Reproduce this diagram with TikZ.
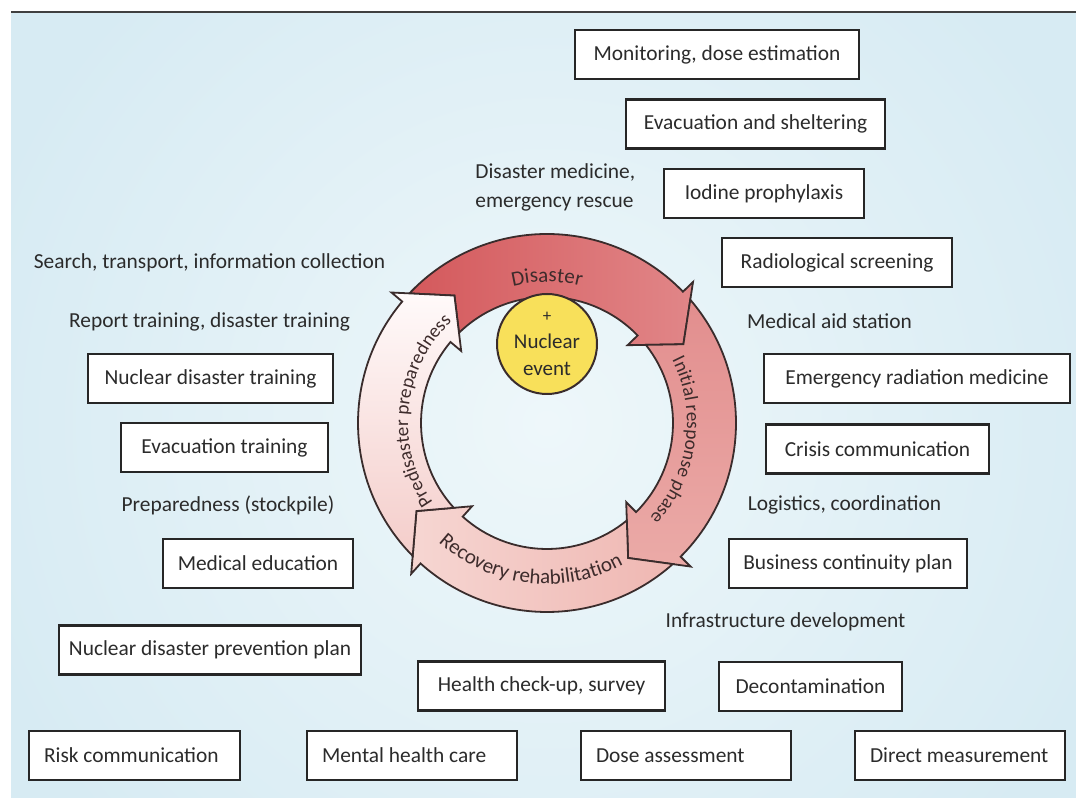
\documentclass[tikz,border=0pt]{standalone}
\usepackage{fontspec}
\setmainfont{Carlito}
\usetikzlibrary{decorations.text}

\definecolor{bgblue}{HTML}{D7EBF3}
\definecolor{bglight}{HTML}{EEF7FA}
\definecolor{ringline}{HTML}{3A2C2C}
\definecolor{disA}{HTML}{D4595C}
\definecolor{disB}{HTML}{E18688}
\definecolor{iniA}{HTML}{E28E8E}
\definecolor{iniB}{HTML}{EBAAA7}
\definecolor{recA}{HTML}{EFB7B2}
\definecolor{recB}{HTML}{F6D6D2}
\definecolor{preA}{HTML}{F4CDCA}
\definecolor{preB}{HTML}{FFFAFA}
\definecolor{nucyellow}{HTML}{F8E05A}
\definecolor{txtgrey}{HTML}{2B2B2B}
\definecolor{ringtxt}{HTML}{3D2B2B}

\newcommand\boxfont{\fontsize{10.7}{14.5}\selectfont}
\newcommand\ringfont{\fontsize{10.5}{12}\selectfont}
\newcommand\ringfontsm{\fontsize{9.6}{12}\selectfont}
\def\rOut{189}
\def\rIn{126}
\def\rMid{157.5}

% ring arrow: #1 = base angle of the previous head, #2 = own head base, #3 = looks
\newcommand\ringarrow[3]{%
  \draw[#3] ({#1-3.29}:\rOut) arc[start angle={#1-3.29}, end angle={#2}, radius=\rOut]
    -- ({#2}:{\rOut+14}) -- ({#2-14}:\rMid) -- ({#2}:{\rIn-14}) -- ({#2}:\rIn)
    arc[start angle={#2}, end angle={#1-5.69}, radius=\rIn]
    -- ({#1-14}:\rMid) -- cycle;}

\begin{document}
\begin{tikzpicture}[x=0.5pt, y=-0.5pt,
  item/.style={draw=black!85, fill=white, line width=1.1pt, font=\boxfont,
    text=txtgrey, minimum height=24.5pt, inner sep=0pt},
  botitem/.style={item, inner xsep=7.5pt},
  lbl/.style={font=\boxfont, text=txtgrey, inner sep=0pt},
  ring/.style={draw=ringline, line width=0.9pt, line join=miter}]
\useasboundingbox (0,0) rectangle (1076,801);

% background
\begin{scope}
  \clip (11,13) rectangle (1076,797);
  \fill[inner color=bglight, outer color=bgblue] (-53,-177) rectangle (1147,1023);
\end{scope}
\draw[line width=1pt, black!75] (11,12.5) -- (1076,12.5);

% cycle
\begin{scope}[shift={(547,423)}, y=0.5pt]
  \ringarrow{140}{44}{ring, left color=disA, right color=disB}
  \ringarrow{44}{-45}{ring, top color=iniA, bottom color=iniB}
  \ringarrow{-45}{-132}{ring, left color=recB, right color=recA}
  \ringarrow{228}{140}{ring, bottom color=preA, top color=preB}

  \path[decorate, decoration={text along path, text align=center,
    text color=ringtxt, text={|\ringfont|Disaster}}]
    (125:141) arc[start angle=125, end angle=55, radius=141];
  \path[decorate, decoration={text along path, text align=center,
    text color=ringtxt, text={|\ringfontsm|Initial response phase}}]
    (48:140) arc[start angle=48, end angle=-64, radius=140];
  \path[decorate, decoration={text along path, text align=center,
    text color=ringtxt, text={|\ringfont|Recovery rehabilitation}}]
    (203:161) arc[start angle=203, end angle=323, radius=161];
  \path[decorate, decoration={text along path, text align=center,
    text color=ringtxt, text={|\ringfontsm|Predisaster preparedness}}]
    (232:139) arc[start angle=232, end angle=116, radius=139];
\end{scope}

\node[circle, draw=ringline, line width=1pt, fill=nucyellow, minimum size=50pt,
  inner sep=0pt, align=center, text=txtgrey, font=\fontsize{10.5}{13.5}\selectfont]
  (nuc) at (547,344) {{\fontsize{8.5}{9}\selectfont +}\\Nuclear\\event};

% right side
\node[item, minimum width=142pt] (monit) at (717,54.5) {Monitoring, dose estimation};
\node[item, minimum width=129.5pt] (evac) at (755.5,124) {Evacuation and sheltering};
\node[item, minimum width=100pt] (iodine) at (764,193.5) {Iodine prophylaxis};
\node[lbl, anchor=west, align=left] (dismed) at (475,187.5) {Disaster medicine,\\emergency rescue};
\node[item, minimum width=115pt] (radscr) at (837,262.5) {Radiological screening};
\node[lbl] (medaid) at (829.5,321) {Medical aid station};
\node[item, minimum width=153pt] (emerg) at (917,378.5) {Emergency radiation medicine};
\node[item, minimum width=111.5pt] (crisis) at (877.5,449) {Crisis communication};
\node[lbl] (logist) at (844.5,505) {Logistics, coordination};
\node[item, minimum width=119pt] (bcp) at (848,563.5) {Business continuity plan};
\node[lbl] (infra) at (785.5,622) {Infrastructure development};
\node[item, minimum width=91.5pt] (decon) at (810.5,686.5) {Decontamination};
\node[item, minimum width=123.5pt] (health) at (541.5,686) {Health check-up, survey};

% left side
\node[lbl] (search) at (209.5,263) {Search, transport, information collection};
\node[lbl] (report) at (209.5,322) {Report training, disaster training};
\node[item, minimum width=122.5pt] (ndtrain) at (210.5,378.5) {Nuclear disaster training};
\node[item, minimum width=103.5pt] (evtrain) at (224.5,447.5) {Evacuation training};
\node[lbl] (stock) at (228,505) {Preparedness (stockpile)};
\node[item, minimum width=95pt] (meded) at (258,563.5) {Medical education};
\node[item, minimum width=151pt] (ndplan) at (210,650) {Nuclear disaster prevention plan};

% bottom row
\node[botitem] (risk) at (134.5,755.5) {\makebox[90.5pt][l]{Risk communication}};
\node[botitem] (mental) at (412,755.5) {\makebox[90pt][l]{Mental health care}};
\node[botitem] (dose) at (686,755.5) {\makebox[90pt][l]{Dose assessment}};
\node[botitem] (direct) at (960,755.5) {\makebox[90pt][l]{Direct measurement}};
\end{tikzpicture}
\end{document}
